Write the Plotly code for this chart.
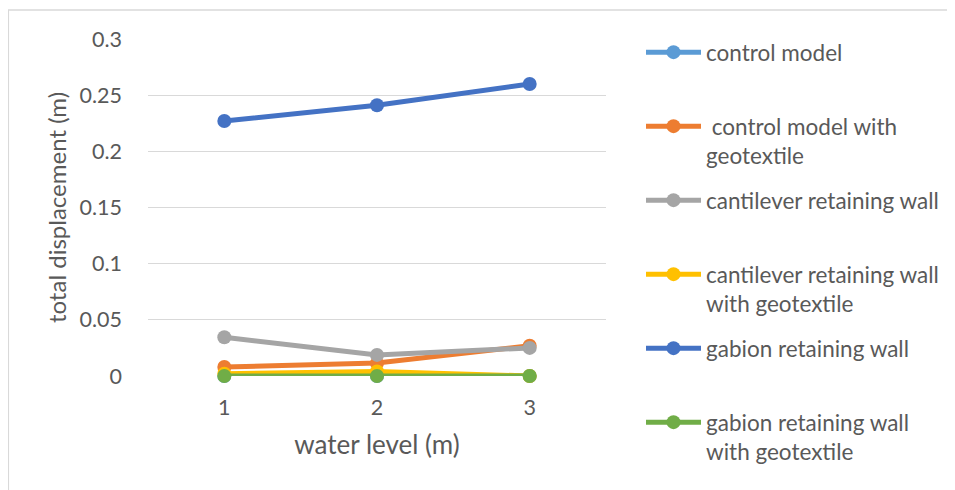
import plotly.graph_objects as go

water_level = [1, 2, 3]
control_model = [0.0, 0.0, 0.0]
control_geo = [0.008, 0.0115, 0.027]
cantilever = [0.0345, 0.0188, 0.025]
cantilever_geo = [0.002, 0.004, 0.0]
gabion = [0.227, 0.241, 0.26]
gabion_geo = [0.0, 0.0, 0.0]

names = ["control model", " control model with<br>geotextile", "cantilever retaining wall",
         "cantilever retaining wall<br>with geotextile", "gabion retaining wall",
         "gabion retaining wall<br>with geotextile"]
series = [control_model, control_geo, cantilever, cantilever_geo, gabion, gabion_geo]
colors = ["#5B9BD5", "#ED7D31", "#A5A5A5", "#FFC000", "#4472C4", "#70AD47"]

FONT = "Lato"
TXT = "#595959"

# figure is offset by the page's 8px body margin
W, H = 947, 482
L, R, T, B = 140, 348, 31, 114
pw, ph = W - L - R, H - T - B

legend_ids = ["legend", "legend2", "legend3", "legend4", "legend5", "legend6"]
legend_first_line = [44, 118, 192, 266, 340, 414]  # figure-pixel centers of first text line

fig = go.Figure()
for n, s, c, lid in zip(names, series, colors, legend_ids):
    fig.add_trace(go.Scatter(
        x=water_level, y=s, name=n, mode="lines+markers",
        line=dict(color=c, width=5), marker=dict(color=c, size=14),
        cliponaxis=False, legend=lid,
    ))

layout_legends = {}
for lid, yc in zip(legend_ids, legend_first_line):
    layout_legends[lid] = dict(
        x=(633 - L) / pw, y=(H - B - (yc - 21)) / ph, xanchor="left", yanchor="top",
        valign="top", itemwidth=55, font=dict(size=22.5, color=TXT, family=FONT),
        bgcolor="rgba(0,0,0,0)", maxheight=200,
    )

fig.update_layout(
    width=W, height=H,
    margin=dict(l=L, r=R, t=T, b=B),
    paper_bgcolor="white", plot_bgcolor="white",
    font=dict(family=FONT, color=TXT, size=20),
    xaxis=dict(range=[0.5, 3.5], tickvals=water_level, ticktext=[str(v) for v in water_level],
               showgrid=False, zeroline=False, showline=False, ticks="",
               ticklabelstandoff=16,
               title=dict(text="water level (m)", font=dict(size=26, color=TXT), standoff=17),
               tickfont=dict(size=21.5, color=TXT)),
    yaxis=dict(range=[0, 0.3], tickvals=[0, 0.05, 0.1, 0.15, 0.2, 0.25, 0.3],
               ticktext=["0", "0.05", "0.1", "0.15", "0.2", "0.25", "0.3"],
               showgrid=True, gridcolor="#D9D9D9", gridwidth=1, zeroline=False,
               showline=False, ticks="", ticklabelstandoff=25,
               title=dict(text="total displacement (m)", font=dict(size=24, color=TXT), standoff=6),
               tickfont=dict(size=21.5, color=TXT)),
    showlegend=True,
    **layout_legends,
)

fig.add_shape(type="rect", xref="paper", yref="paper",
              x0=(0 - L) / pw, x1=(W + 5 - L) / pw,
              y0=(H - B - (H + 5)) / ph, y1=(H - B - 2) / ph,
              line=dict(color="#D9D9D9", width=1.5), fillcolor="rgba(0,0,0,0)", layer="below")

fig.write_html("out.html")
